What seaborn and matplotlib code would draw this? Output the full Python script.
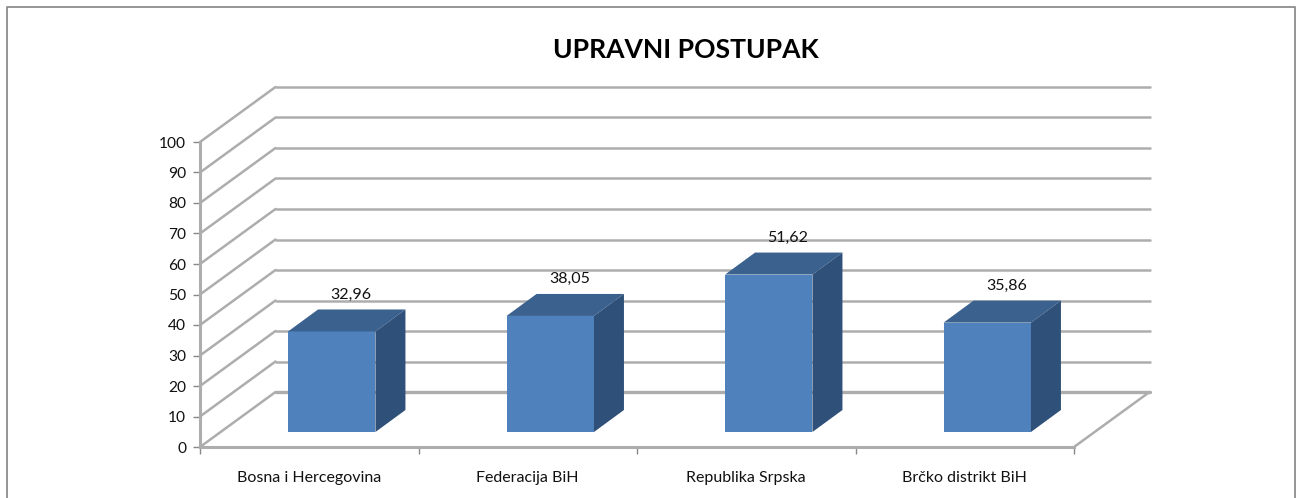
import pandas as pd
import seaborn as sns
import matplotlib.pyplot as plt
from matplotlib.patches import Polygon
from matplotlib.transforms import Affine2D, IdentityTransform

# podaci
kategorije = ["Bosna i Hercegovina", "Federacija BiH", "Republika Srpska", "Brčko distrikt BiH"]
vrijednosti = [32.96, 38.05, 51.62, 35.86]
oznake = ["32,96", "38,05", "51,62", "35,86"]
naslov = "UPRAVNI POSTUPAK"
y_ticks = list(range(0, 101, 10))

SIVA = "#adadad"
W, H = 1301, 498

sns.set_theme(style="white")
plt.rcParams["font.family"] = ["Lato", "DejaVu Sans"]

fig = plt.figure(figsize=(W / 100, H / 100), dpi=100)
ax = fig.add_axes([200 / W, (H - 447) / H, 874 / W, 305 / H])
ax.patch.set_alpha(0)

df = pd.DataFrame({"kategorija": kategorije, "vrijednost": vrijednosti})
sns.barplot(data=df, x="kategorija", y="vrijednost", width=0.4, color="#4f81bd",
            saturation=1, ax=ax, zorder=3)
ax.set_xlim(-0.5, len(kategorije) - 0.5)
ax.set_ylim(0, 100)
ax.set_xlabel("")
ax.set_ylabel("")

# pomak prednje strane stupca i dubina, u pikselima
POMAK_X, POMAK_Y = 22.5, 15
DUB_X, DUB_Y = 30, 22
ZID_X, ZID_Y = 75.5, 55

ekran = IdentityTransform()

# mreza na zadnjem i lijevom zidu
for t in y_ticks:
    x0, y0 = ax.transData.transform((-0.5, t))
    x1, _ = ax.transData.transform((len(kategorije) - 0.5, t))
    debljina = 2.4 if t == 0 else 1.8
    ax.plot([x0 + ZID_X, x1 + ZID_X], [y0 + ZID_Y, y0 + ZID_Y], color=SIVA, lw=debljina,
            transform=ekran, clip_on=False, zorder=1)
    ax.plot([x0, x0 + ZID_X], [y0, y0 + ZID_Y], color=SIVA, lw=1.8,
            transform=ekran, clip_on=False, zorder=1)

# desni rub poda
x0, y0 = ax.transData.transform((-0.5, 0))
x1, _ = ax.transData.transform((len(kategorije) - 0.5, 0))
ax.plot([x1, x1 + ZID_X], [y0, y0 + ZID_Y], color=SIVA, lw=1.8, transform=ekran, clip_on=False, zorder=1)

# 3D stupci
for bar, oznaka in zip(ax.patches, oznake):
    (x_l, y_d), (x_r, y_g) = bar.get_window_extent().get_points()
    bar.set_transform(ax.transData + Affine2D().translate(POMAK_X, POMAK_Y))
    bar.set_clip_on(False)
    bar.set_edgecolor("none")
    x_l, x_r = x_l + POMAK_X, x_r + POMAK_X
    y_d, y_g = y_d + POMAK_Y, y_g + POMAK_Y
    gornja = [(x_l, y_g), (x_r, y_g), (x_r + DUB_X, y_g + DUB_Y), (x_l + DUB_X, y_g + DUB_Y)]
    bocna = [(x_r, y_d), (x_r + DUB_X, y_d + DUB_Y), (x_r + DUB_X, y_g + DUB_Y), (x_r, y_g)]
    ax.add_patch(Polygon(gornja, closed=True, fc="#3b628f", ec="none", transform=ekran, clip_on=False, zorder=3))
    ax.add_patch(Polygon(bocna, closed=True, fc="#2f5078", ec="none", transform=ekran, clip_on=False, zorder=3))
    ax.text((x_l + x_r) / 2 + DUB_X / 2 + 4, y_g + DUB_Y + 15, oznaka, transform=ekran, ha="center", va="center",
            fontsize=11.5, color="#111111", zorder=5)

# osi
sns.despine(ax=ax)
for s in ["left", "bottom"]:
    ax.spines[s].set_color(SIVA)
    ax.spines[s].set_linewidth(2.2)
    ax.spines[s].set_zorder(2)

ax.set_yticks(y_ticks)
ax.tick_params(axis="y", left=True, length=5, width=1, color="#888888", pad=5, labelsize=11.2, labelcolor="#111111")
ax.set_xticks(range(len(kategorije)))
ax.set_xticklabels(kategorije)
ax.set_xticks([i - 0.5 for i in range(len(kategorije) + 1)], minor=True)
ax.tick_params(axis="x", which="major", bottom=False, length=0, pad=17, labelsize=11.5, labelcolor="#111111")
ax.tick_params(axis="x", which="minor", bottom=True, length=5, width=1, color="#888888")

fig.text(685.5 / W, (H - 50) / H, naslov, ha="center", va="center", fontsize=19.1, fontweight="bold", color="black")

# okvir grafikona
fig.add_artist(plt.Line2D([7 / W, 7 / W, 1295 / W, 1295 / W], [0, (H - 7) / H, (H - 7) / H, 0],
                          transform=fig.transFigure, color="#8c8c8c", lw=1.3))

fig.savefig("out.png", dpi=100)
